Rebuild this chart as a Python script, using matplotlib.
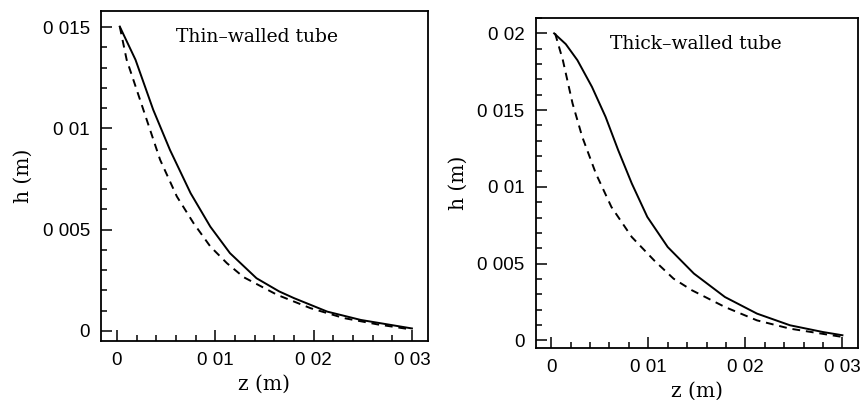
import matplotlib
matplotlib.use("Agg")
import matplotlib.pyplot as plt
from matplotlib.ticker import MultipleLocator, FixedLocator, FixedFormatter

# ---- data ----
thin_z_solid = [0.0003, 0.0019, 0.0037, 0.0054, 0.0075, 0.0095, 0.0115, 0.0142,
                0.0165, 0.0180, 0.0214, 0.0248, 0.0300]
thin_h_solid = [0.01503, 0.01339, 0.01092, 0.00894, 0.00680, 0.00515, 0.00384, 0.00260,
                0.00195, 0.00162, 0.00095, 0.00054, 0.00012]
thin_z_dash = [0.0003, 0.0010, 0.0027, 0.0044, 0.0061, 0.0078, 0.0095, 0.0112,
               0.0129, 0.0163, 0.0197, 0.0231, 0.0265, 0.0298]
thin_h_dash = [0.01503, 0.01339, 0.01092, 0.00845, 0.00664, 0.00532, 0.00417, 0.00334,
               0.00265, 0.00178, 0.00112, 0.00063, 0.00032, 0.00008]

thick_z_solid = [0.0003, 0.0015, 0.0027, 0.0042, 0.0056, 0.0069, 0.0083, 0.0099,
                 0.0120, 0.0147, 0.0179, 0.0212, 0.0246, 0.0280, 0.0300]
thick_h_solid = [0.0200, 0.0193, 0.01825, 0.01651, 0.01456, 0.01239, 0.01022, 0.00804,
                 0.00608, 0.00435, 0.00282, 0.00174, 0.00098, 0.00054, 0.00033]
thick_z_dash = [0.0004, 0.0012, 0.0022, 0.0032, 0.0046, 0.0062, 0.0083, 0.0106,
                0.0126, 0.0145, 0.0179, 0.0212, 0.0246, 0.0300]
thick_h_dash = [0.0200, 0.01825, 0.01543, 0.01325, 0.01087, 0.00869, 0.00673, 0.00521,
                0.00402, 0.00326, 0.00217, 0.00130, 0.00076, 0.00022]

x_ticks = [0, 0.01, 0.02, 0.03]
x_labels = ["0", "0 01", "0 02", "0 03"]
thin_y_ticks = [0, 0.005, 0.01, 0.015]
thin_y_labels = ["0", "0 005", "0 01", "0 015"]
thick_y_ticks = [0, 0.005, 0.01, 0.015, 0.02]
thick_y_labels = ["0", "0 005", "0 01", "0 015", "0 02"]

SERIF = ["DejaVu Serif"]
SANS = ["Liberation Sans", "DejaVu Sans"]

fig = plt.figure(figsize=(8.64, 4.0), dpi=100)
ax1 = fig.add_axes([0.117, 0.1475, 0.378, 0.825])
ax2 = fig.add_axes([0.620, 0.130, 0.373, 0.825])

def style(ax, yt, yl, ylim, title):
    ax.set_xlim(-0.0016, 0.0316)
    ax.set_ylim(*ylim)
    ax.xaxis.set_major_locator(FixedLocator(x_ticks))
    ax.xaxis.set_major_formatter(FixedFormatter(x_labels))
    ax.yaxis.set_major_locator(FixedLocator(yt))
    ax.yaxis.set_major_formatter(FixedFormatter(yl))
    ax.xaxis.set_minor_locator(MultipleLocator(0.002))
    ax.yaxis.set_minor_locator(MultipleLocator(0.001))
    ax.tick_params(which="both", direction="in", top=False, right=False,
                   width=1.1, labelsize=13.5, colors="black")
    ax.tick_params(which="major", length=8, pad=8)
    ax.tick_params(which="minor", length=4.5)
    for lab in ax.get_xticklabels() + ax.get_yticklabels():
        lab.set_family(SANS)
    for s in ax.spines.values():
        s.set_linewidth(1.3)
    ax.set_xlabel("z (m)", family=SERIF, fontsize=14.5, labelpad=4)
    ax.set_ylabel("h (m)", family=SERIF, fontsize=14.5, labelpad=7)
    ax.text(0.23, 0.92, title, transform=ax.transAxes, family=SERIF,
            fontsize=13.5, va="center", ha="left")

ax1.plot(thin_z_solid, thin_h_solid, color="black", lw=1.4)
ax1.plot(thin_z_dash, thin_h_dash, color="black", lw=1.4, ls=(0, (4, 3)))
style(ax1, thin_y_ticks, thin_y_labels, (-0.0005, 0.0158), "Thin–walled tube")

ax2.plot(thick_z_solid, thick_h_solid, color="black", lw=1.4)
ax2.plot(thick_z_dash, thick_h_dash, color="black", lw=1.4, ls=(0, (4, 3)))
style(ax2, thick_y_ticks, thick_y_labels, (-0.0005, 0.0210), "Thick–walled tube")

fig.savefig("out.png", dpi=100)
